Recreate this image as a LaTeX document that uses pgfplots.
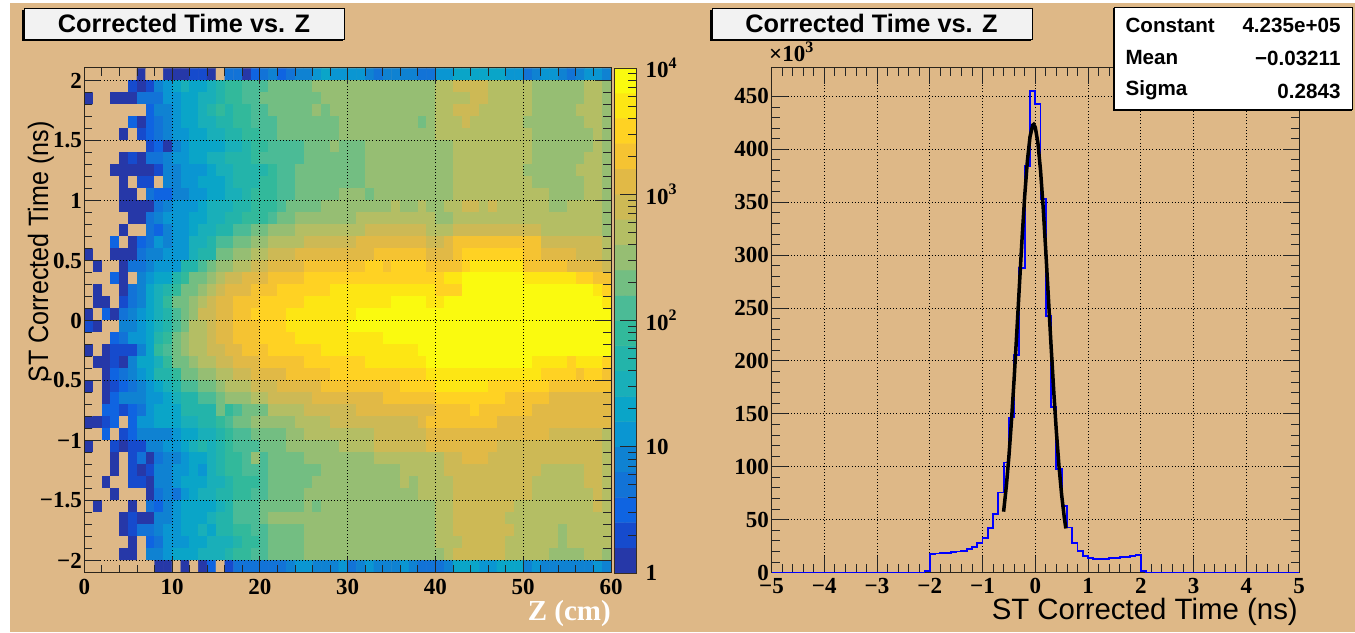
\documentclass[border=0pt]{standalone}
\usepackage{graphicx}
\usepackage{fontspec}
\setmainfont{Liberation Serif}
\newfontfamily\hv{Liberation Sans}
\usepackage{pgfplots}
\usepackage{pgfplotstable}
\pgfplotsset{compat=1.18}
\definecolor{rootbg}{RGB}{222,184,135}
\pgfplotsset{colormap={rootbird}{
 rgb255=(222,184,135)
 rgb255=(38,56,168) rgb255=(22,75,205) rgb255=(15,100,225) rgb255=(18,115,215) rgb255=(15,130,210)
 rgb255=(10,150,210) rgb255=(10,165,200) rgb255=(25,175,185) rgb255=(35,180,170) rgb255=(50,185,155)
 rgb255=(75,187,150) rgb255=(115,190,130) rgb255=(150,190,115) rgb255=(180,190,100) rgb255=(205,185,85)
 rgb255=(225,185,70) rgb255=(245,195,50) rgb255=(255,210,35) rgb255=(253,230,20) rgb255=(250,250,15)
}}
% colour level of each cell (0 = empty, n = n-th of the 20 log contours from 1 to 10^4)
% rows run from y=2.05 down to y=-2.05, columns from z=0.5 to z=59.5
\pgfplotstableread[header=false]{
0 0 0 0 0 0 1 0 0 1 1 1 2 2 1 0 4 4 1 3 4 5 3 4 5 5 6 7 6 6 6 6 5 4 5 5 5 5 4 4 6 6 7 7 7 7 7 7 6 6 4 5 6 6 5 4 5 6 6 5
0 0 0 0 0 2 1 2 5 6 7 8 7 7 8 9 10 10 11 11 11 12 12 12 12 12 13 13 13 13 13 13 13 13 13 13 13 13 13 13 14 14 15 15 15 15 14 14 14 14 14 13 13 13 13 13 13 14 14 13
1 0 0 1 1 1 4 4 4 6 6 7 7 8 8 9 10 10 11 11 12 12 12 12 12 12 12 13 13 13 13 13 13 13 13 13 13 13 13 13 14 14 14 14 15 15 14 14 14 14 14 13 13 13 13 13 13 14 14 13
0 0 0 0 0 0 0 3 5 5 6 7 7 8 9 10 9 10 10 11 11 12 12 12 12 12 13 12 13 13 13 13 13 13 13 13 13 13 13 13 14 14 15 15 15 14 14 14 14 14 14 13 13 13 13 13 14 14 14 13
0 0 0 0 0 3 1 3 4 5 6 7 7 8 8 9 9 10 10 11 11 11 12 12 12 12 12 12 12 13 13 13 13 13 13 13 13 13 12 13 14 14 14 15 14 14 14 14 14 14 13 13 13 13 13 13 13 14 14 13
0 0 0 0 1 0 2 3 4 5 6 6 7 7 8 8 9 9 10 10 11 11 12 12 12 12 12 12 12 13 13 13 13 13 13 13 13 13 13 13 14 14 14 14 14 14 14 14 14 14 14 13 13 13 13 13 13 13 14 13
0 0 0 0 0 0 0 2 3 1 5 6 7 7 7 7 8 8 9 10 10 11 11 11 11 12 12 12 13 12 12 12 13 13 13 13 13 13 13 13 13 13 14 14 14 14 14 14 14 14 14 13 13 13 13 13 13 13 14 13
0 0 0 0 1 2 1 4 4 5 6 6 7 7 8 8 9 9 9 10 11 11 11 11 11 12 12 12 12 12 12 12 13 13 13 13 13 13 13 13 13 13 14 14 14 14 14 14 14 14 14 13 13 13 13 13 13 14 14 13
0 0 0 1 1 1 1 1 2 5 5 6 6 6 7 8 8 9 9 9 9 10 11 11 12 12 12 12 12 12 12 12 13 13 13 13 13 13 13 13 13 13 14 14 14 14 14 14 14 14 13 13 13 13 13 13 14 14 14 13
0 0 0 0 1 0 2 2 0 5 5 6 6 7 7 7 8 9 9 9 10 10 11 11 12 12 12 12 12 12 12 12 13 13 13 13 13 13 13 13 13 13 14 14 14 14 14 14 14 14 14 13 13 13 13 13 13 14 14 13
0 0 0 0 1 1 0 4 3 3 5 5 6 6 7 7 8 8 9 10 10 10 11 11 12 12 12 12 12 13 13 13 12 13 13 13 13 13 13 13 13 13 14 14 14 14 14 14 14 14 14 14 14 13 13 13 13 14 14 13
0 0 0 0 1 1 1 1 4 5 6 6 6 7 8 8 8 9 9 10 10 10 11 12 12 12 12 13 13 13 13 13 13 13 13 14 13 13 14 13 13 14 14 15 15 14 15 14 14 14 14 14 14 13 13 14 14 14 14 13
0 0 0 0 0 1 1 4 5 6 6 6 7 7 8 8 9 9 10 10 10 11 12 12 13 13 13 13 13 13 13 14 14 14 14 14 14 14 14 14 13 13 14 14 14 14 14 14 14 14 14 14 14 14 14 14 14 14 14 13
0 0 0 0 1 0 0 4 3 5 6 6 7 8 8 9 9 11 11 12 12 13 13 13 14 14 14 14 14 14 14 14 15 15 15 15 15 15 15 14 14 14 15 15 15 15 15 15 15 15 15 15 14 14 14 14 14 14 14 13
0 0 0 3 0 1 3 4 6 5 6 6 8 8 9 11 11 12 12 13 13 14 14 14 14 15 15 15 15 15 15 16 16 16 16 16 16 16 16 15 15 16 17 17 17 17 17 17 17 17 17 17 15 15 15 15 15 15 15 14
1 0 0 1 1 1 4 5 5 6 6 6 8 9 9 12 12 13 13 14 14 15 15 15 16 16 16 16 16 16 16 16 16 17 17 17 17 17 17 16 16 16 17 18 18 18 18 18 18 18 17 17 16 16 16 16 15 15 15 14
0 1 0 0 1 4 4 5 6 6 6 9 9 11 12 13 13 14 14 15 15 16 16 16 16 17 17 17 17 17 17 17 18 18 17 18 18 18 18 17 17 17 17 18 19 19 19 19 19 19 17 17 17 17 17 16 16 16 16 15
0 0 0 3 1 0 5 6 7 7 9 10 12 12 13 14 15 15 16 16 16 17 17 17 17 18 18 18 18 18 18 18 18 18 18 18 18 18 18 18 18 19 19 20 20 20 20 20 20 20 19 19 19 19 19 19 18 18 17 17
0 1 0 0 1 4 5 7 8 9 10 12 12 13 14 15 16 16 16 17 17 17 18 18 18 18 18 18 19 19 19 19 19 19 19 19 19 19 19 19 18 18 18 20 20 20 20 20 20 20 20 20 20 20 20 20 20 20 19 18
0 1 1 0 2 4 5 7 8 10 12 12 13 14 15 16 16 17 17 17 18 18 18 18 18 19 19 19 19 19 19 19 19 19 19 20 20 20 20 19 19 20 20 20 20 20 20 20 20 20 20 20 20 20 20 20 20 20 20 19
1 0 3 1 4 5 6 7 8 9 11 12 13 15 15 16 16 17 17 18 18 18 18 19 19 19 19 19 19 19 19 20 20 20 20 20 20 20 20 20 20 20 20 20 20 20 20 20 20 20 20 20 20 20 20 20 20 20 20 20
2 1 0 0 5 5 6 7 8 9 11 12 14 14 15 16 16 17 17 17 18 18 18 19 19 19 19 19 19 19 20 20 20 20 20 20 20 20 20 20 20 20 20 20 20 20 20 20 20 20 20 20 20 20 20 20 20 20 20 20
0 0 0 3 4 6 6 7 9 10 12 13 14 14 15 16 16 17 17 17 18 18 18 18 19 19 19 19 19 19 19 19 19 19 20 20 20 20 20 20 20 20 20 20 20 20 20 20 20 20 20 20 20 20 20 20 20 20 20 20
1 0 1 2 2 2 5 7 10 11 12 13 14 14 15 15 16 16 17 17 17 18 18 18 18 18 18 19 19 19 19 19 19 19 19 19 19 19 20 20 20 20 20 20 20 20 20 20 20 20 20 20 20 20 20 20 20 20 20 20
0 1 1 2 1 5 7 7 8 10 12 12 13 14 14 15 15 16 16 16 17 17 17 17 17 18 18 18 18 18 18 18 19 19 19 19 19 19 19 20 20 20 20 20 20 20 20 20 20 20 20 19 19 19 19 18 19 19 19 18
0 0 1 3 4 5 6 7 9 9 10 12 12 13 13 14 14 15 15 16 16 16 16 17 17 17 17 17 18 18 18 18 18 18 18 18 18 18 18 19 19 19 19 19 19 19 19 19 19 19 19 19 18 18 18 18 17 18 18 17
1 0 1 2 3 4 5 6 7 8 9 11 11 12 12 13 14 14 14 15 15 15 16 16 16 16 16 17 17 17 17 17 17 17 17 17 18 18 18 18 19 19 19 19 19 19 18 18 18 18 18 18 18 17 17 17 17 17 17 17
0 0 1 3 5 5 5 6 6 7 8 9 9 11 11 12 13 13 13 14 14 15 15 15 15 15 16 16 16 16 16 16 16 16 17 17 17 17 17 17 18 18 18 18 18 18 18 18 17 17 17 17 17 16 16 16 16 16 16 16
0 0 3 3 2 3 4 6 7 7 7 9 9 9 9 12 10 11 12 12 12 14 14 14 14 15 15 15 15 15 15 16 16 16 16 16 16 16 16 16 17 17 17 17 18 17 17 17 17 17 17 16 16 16 16 16 16 16 16 16
1 1 2 3 0 3 6 6 7 7 7 8 8 9 9 10 11 12 12 13 13 13 13 13 14 14 14 14 15 15 15 15 15 15 15 15 15 15 16 17 17 17 17 17 17 17 17 16 16 16 16 16 16 16 16 16 16 16 16 16
0 0 3 0 2 3 5 5 5 5 6 7 7 8 8 9 10 11 11 12 12 12 12 13 13 14 14 14 14 14 14 14 14 15 15 15 15 15 15 16 16 16 16 16 16 16 16 16 16 16 16 16 16 15 15 15 15 15 15 14
1 0 0 2 1 2 2 5 5 6 6 7 8 9 8 9 10 11 11 11 12 12 12 13 13 13 13 13 13 14 14 14 14 15 15 15 15 15 15 16 16 16 16 16 16 16 16 15 15 15 15 15 15 15 15 15 15 15 15 14
0 0 0 1 0 2 4 1 4 5 5 6 7 7 8 9 10 10 11 13 11 12 12 12 12 13 13 13 13 13 13 13 13 14 14 14 14 14 14 14 14 15 15 16 16 16 15 15 15 15 15 15 15 15 15 15 15 15 15 14
0 0 0 1 0 2 1 2 5 5 6 6 7 6 8 9 10 10 11 11 11 12 12 12 12 12 12 13 13 13 13 13 13 13 13 13 14 14 14 14 14 15 15 15 15 15 15 15 15 15 15 15 14 14 14 14 14 15 15 14
0 0 1 0 0 2 2 1 5 5 6 7 7 7 8 8 9 10 10 10 11 12 12 12 12 12 13 13 13 13 13 13 13 13 13 13 14 13 14 14 14 14 15 15 15 15 15 15 15 15 15 14 14 14 14 14 14 15 15 14
0 0 0 1 0 0 0 1 4 5 4 6 7 8 8 9 9 10 10 11 11 12 12 12 12 13 13 13 13 13 13 13 13 13 13 13 13 13 14 14 14 14 15 15 15 15 15 15 15 15 15 14 14 14 14 14 14 14 15 14
0 1 0 0 0 1 0 4 3 5 6 7 7 7 7 8 9 11 11 11 12 12 12 12 12 13 12 13 13 13 13 13 13 13 13 13 13 13 13 13 14 14 15 15 15 15 15 15 15 14 14 14 14 14 14 14 14 14 15 14
0 0 0 0 1 2 1 1 5 5 6 7 7 7 8 9 9 11 11 11 12 13 13 13 13 13 13 13 13 13 13 13 13 13 13 13 13 13 13 13 14 14 15 15 15 15 15 15 14 14 14 14 14 14 14 14 14 14 14 14
0 0 0 0 1 2 4 4 5 6 6 7 7 8 7 9 9 10 10 11 11 12 12 12 12 13 13 13 13 13 13 13 13 13 13 13 13 13 13 13 14 14 15 15 15 15 15 15 15 14 14 14 14 14 13 14 14 14 14 14
0 0 0 0 0 1 0 3 4 6 6 6 7 7 8 8 8 9 10 10 11 12 12 12 12 13 13 13 13 13 13 13 13 13 13 13 13 13 13 13 14 14 14 15 15 15 15 15 14 14 14 14 14 14 13 14 14 14 14 14
0 0 0 0 1 1 0 5 5 6 7 7 7 8 8 8 9 10 10 11 11 12 12 12 12 13 13 13 13 13 13 13 13 13 13 13 13 13 13 13 13 14 15 15 15 15 15 15 14 14 14 14 14 13 13 13 13 14 14 13
0 0 0 0 0 0 0 0 1 1 0 1 0 1 3 0 2 4 4 4 4 4 4 5 6 6 5 5 5 6 4 5 6 5 5 5 6 5 4 4 4 5 7 7 7 6 6 7 7 7 5 6 5 5 5 5 5 5 6 5
}\hmtable
\def\cc{}
\foreach \j in {0,...,41}{%
  \pgfmathsetmacro\yy{2.05-0.1*\j}%
  \foreach \i in {0,...,59}{%
    \pgfplotstablegetelem{\j}{[index]\i}\of\hmtable
    \xdef\cc{\cc (\i.5,\yy) [\pgfplotsretval]}%
  }%
}
\newcommand{\tl}{\fontsize{23}{23}\selectfont\bfseries}
\newcommand{\pw}[1]{10\raisebox{.42em}{\fontsize{16}{16}\selectfont #1}}
\begin{document}
\begin{tikzpicture}[x=1pt,y=1pt]
\path[use as bounding box,fill=white] (0,0) rectangle (1355,632);
\fill[rootbg] (10,0) rectangle (1355,629);
% left: heat map
\begin{axis}[
  at={(84.3pt,59pt)},anchor=south west,scale only axis,width=526.7pt,height=505pt,
  xmin=0,xmax=60,ymin=-2.105,ymax=2.105,
  axis on top,grid=major,
  grid style={black,line width=.8pt,dash pattern=on 1pt off 2.2pt},
  axis line style={black!80!rootbg,line width=1pt},
  tick style={black!85,line width=.8pt},
  tick align=inside,major tick length=16pt,minor tick length=8pt,
  xtick={0,10,20,30,40,50,60},minor x tick num=4,
  ytick={-2,-1.5,-1,-0.5,0,0.5,1,1.5,2},minor y tick num=4,
  xticklabels={0,10,20,30,40,50,60},
  yticklabels={−2,−1.5,−1,−0.5,0,0.5,1,1.5,2},
  xticklabel style={font=\tl,yshift=-2.5pt},
  yticklabel style={font=\tl,xshift=1pt},
  colormap name=rootbird,colormap access=piecewise constant,
  point meta min=-0.5,point meta max=20.5,
]
\edef\tmp{\noexpand\addplot[matrix plot*,mesh/cols=60,point meta=explicit] coordinates {\cc};}
\tmp
\end{axis}
% palette
\begin{axis}[
  at={(614pt,59pt)},anchor=south west,scale only axis,width=22pt,height=505pt,
  xmin=0,xmax=1,ymode=log,ymin=1,ymax=10000,
  xtick=\empty,
  axis on top,
  axis line style={black!75!rootbg,line width=.6pt},
  tick style={black!85,line width=.8pt},
  tick align=inside,major tick length=16pt,minor tick length=8pt,
  ytick pos=right,yticklabel pos=right,
  ytick={1,10,100,1000,10000},
  yticklabels={1,10,\pw{2},\pw{3},\pw{4}},
  minor ytick={2,3,4,5,6,7,8,9,20,30,40,50,60,70,80,90,200,300,400,500,600,700,800,900,2000,3000,4000,5000,6000,7000,8000,9000},
  yticklabel style={font=\tl,xshift=6pt},
  colormap name=rootbird,colormap access=piecewise constant,
  point meta min=-0.5,point meta max=20.5,
]
\addplot[matrix plot*,mesh/cols=2,point meta=explicit] coordinates {
(0.25,1.2589)[1] (0.75,1.2589)[1] (0.25,1.9953)[2] (0.75,1.9953)[2]
(0.25,3.1623)[3] (0.75,3.1623)[3] (0.25,5.0119)[4] (0.75,5.0119)[4]
(0.25,7.9433)[5] (0.75,7.9433)[5] (0.25,12.589)[6] (0.75,12.589)[6]
(0.25,19.953)[7] (0.75,19.953)[7] (0.25,31.623)[8] (0.75,31.623)[8]
(0.25,50.119)[9] (0.75,50.119)[9] (0.25,79.433)[10] (0.75,79.433)[10]
(0.25,125.89)[11] (0.75,125.89)[11] (0.25,199.53)[12] (0.75,199.53)[12]
(0.25,316.23)[13] (0.75,316.23)[13] (0.25,501.19)[14] (0.75,501.19)[14]
(0.25,794.33)[15] (0.75,794.33)[15] (0.25,1258.9)[16] (0.75,1258.9)[16]
(0.25,1995.3)[17] (0.75,1995.3)[17] (0.25,3162.3)[18] (0.75,3162.3)[18]
(0.25,5011.9)[19] (0.75,5011.9)[19] (0.25,7943.3)[20] (0.75,7943.3)[20]
};
\end{axis}
% right: histogram with fit
\begin{axis}[
  at={(771.5pt,59.5pt)},anchor=south west,scale only axis,width=527.5pt,height=504.5pt,
  xmin=-5,xmax=5,ymin=0,ymax=476.8,clip=false,
  grid=major,
  grid style={black,line width=.8pt,dash pattern=on 1pt off 2.2pt},
  axis line style={black!80!rootbg,line width=1pt},
  tick style={black!85,line width=.8pt},
  tick align=inside,major tick length=16pt,minor tick length=8pt,
  xtick={-5,-4,-3,-2,-1,0,1,2,3,4,5},minor x tick num=4,
  ytick={0,50,100,150,200,250,300,350,400,450},minor y tick num=4,
  xticklabels={−5,−4,−3,−2,−1,0,1,2,3,4,5},
  yticklabels={0,50,100,150,200,250,300,350,400,450},
  xticklabel style={font=\tl,yshift=-2.5pt},
  yticklabel style={font=\tl,xshift=1pt},
]
\addplot[const plot,blue,line width=1.9pt] coordinates {
(-5,0)(-2.1,1)(-2.0,17.3)(-1.9,18)(-1.8,18.1)(-1.7,18.3)(-1.6,19.2)(-1.5,19.8)(-1.4,20.5)(-1.3,22)(-1.2,24)(-1.1,28)
(-1.0,33)(-0.9,42)(-0.8,55)(-0.7,75.6)(-0.6,104)(-0.5,146.5)(-0.4,205.8)(-0.3,287.7)(-0.2,384)(-0.1,455)
(0,442.6)(0.1,353)(0.2,242)(0.3,156)(0.4,97.7)(0.5,63)(0.6,42.5)(0.7,28)(0.8,20)(0.9,15.7)
(1.0,14)(1.1,13)(1.2,13)(1.3,13)(1.4,13.9)(1.5,14)(1.6,14.8)(1.7,15)(1.8,16)(1.9,16.4)(2.0,1.5)(2.1,0)(5,0)
};
\addplot[black,line width=3.5pt] coordinates {
(-0.60,57.5)(-0.55,80.7)(-0.50,109.3)(-0.45,143.8)(-0.40,183.4)(-0.35,226.7)(-0.30,271.7)(-0.25,315.8)(-0.20,355.9)
(-0.15,388.6)(-0.10,411.6)(-0.05,422.7)(-0.03,423.5)(0,420.8)(0.05,406.2)(0.10,380.1)(0.15,345)(0.20,303.6)(0.25,258.9)
(0.30,214.1)(0.35,171.7)(0.40,133.4)(0.45,100.5)(0.50,73.5)(0.55,52.1)(0.58,41.6)
};
\end{axis}
% texts and boxes
\fill[black] (22,590.5) rectangle (343,622);
\fill[black!5,draw=black,line width=.6pt] (24,592.5) rectangle (344,623.5);
\node at (184,608.5) {\hv\fontsize{25.3}{25}\selectfont\bfseries Corrected Time vs. Z};
\fill[black] (710,590.5) rectangle (1031,622);
\fill[black!5,draw=black,line width=.6pt] (712,592.5) rectangle (1032,623.5);
\node at (871.5,608.5) {\hv\fontsize{25.3}{25}\selectfont\bfseries Corrected Time vs. Z};
\fill[black] (1112.5,520.5) rectangle (1352,624);
\fill[white,draw=black,line width=.6pt] (1114.5,522.5) rectangle (1352.5,625);
\begin{scope}[every node/.style={font=\hv\fontsize{20.6}{21}\selectfont\bfseries}]
\node[anchor=west] at (1122,607) {Constant};
\node[anchor=west] at (1122,574) {Mean};
\node[anchor=west] at (1122,542) {Sigma};
\node[anchor=east] at (1344,607) {4.235e+05};
\node[anchor=east] at (1344,574) {−0.03211};
\node[anchor=east] at (1344,541) {0.2843};
\end{scope}
\node[anchor=base west,inner sep=0pt] at (769,570) {\tl ×\pw{3}};
\node[rotate=90] at (41,380) {\scalebox{.896}[1]{\hv\fontsize{28}{28}\selectfont ST Corrected Time (ns)}};
\node[anchor=east,inner sep=0pt] at (1298,20) {\hv\fontsize{29.4}{29}\selectfont ST Corrected Time (ns)};
\node[anchor=east,inner sep=0pt,text=white] at (611,18.5) {\fontsize{29}{29}\selectfont\bfseries Z (cm)};
\end{tikzpicture}
\end{document}
